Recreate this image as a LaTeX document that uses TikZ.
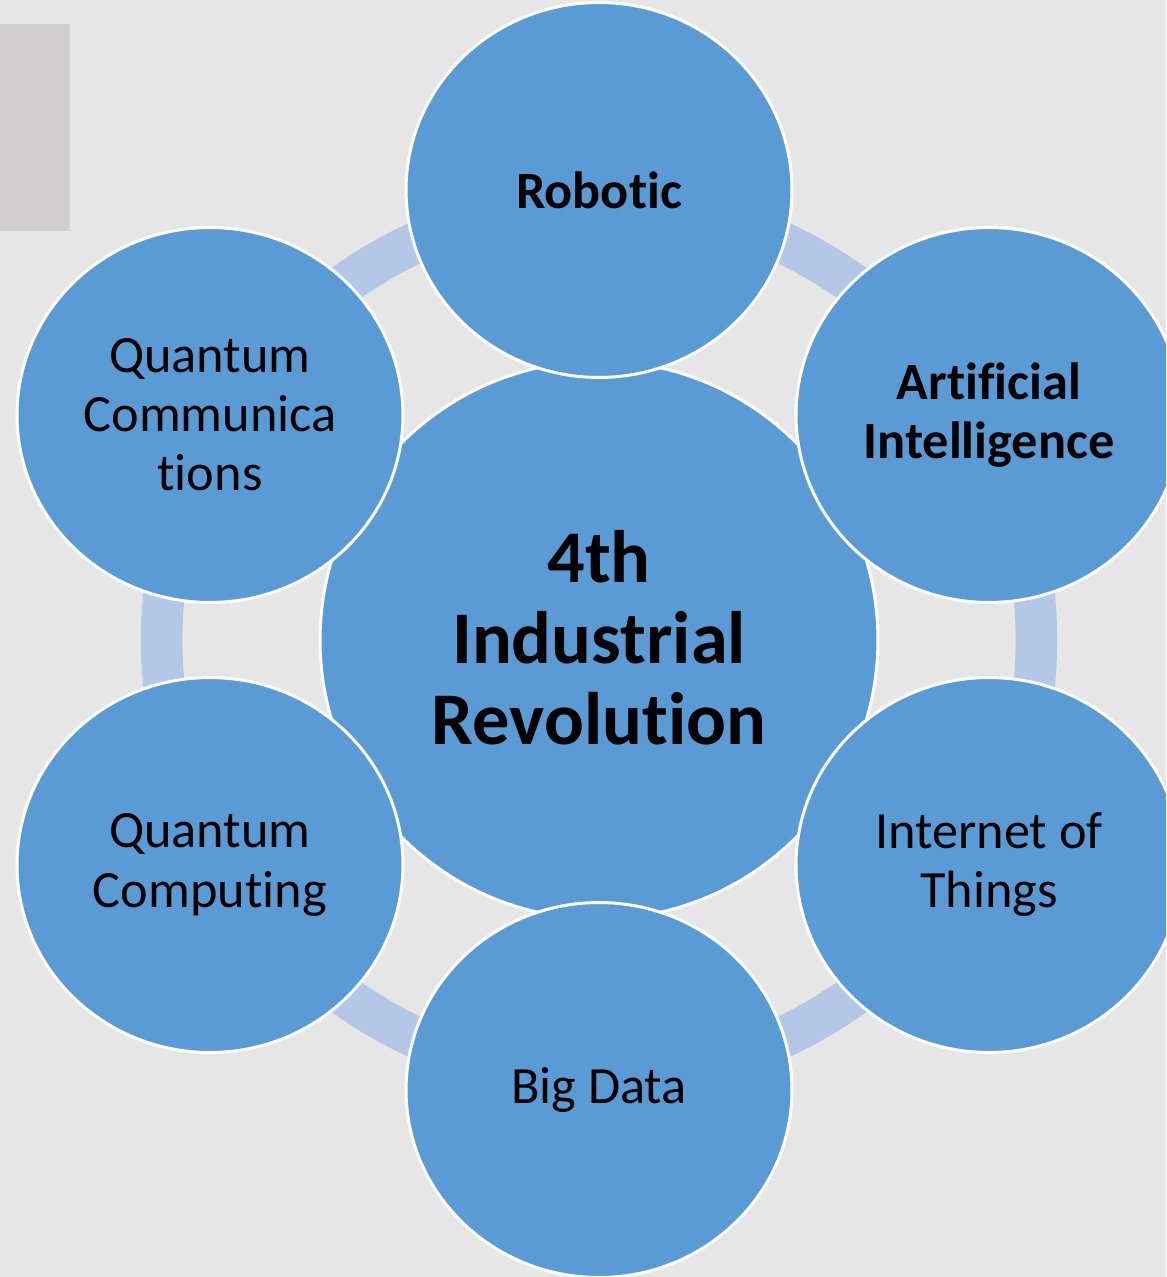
\documentclass[tikz,border=0pt]{standalone}
\usepackage{fontspec}
\setmainfont{Carlito}[RawFeature=-liga]
\usepackage{tikz}
\usetikzlibrary{shapes.geometric}
\definecolor{pagegray}{HTML}{E7E6E6}
\definecolor{tabgray}{HTML}{D0CECE}
\definecolor{discblue}{HTML}{5B9BD5}
\definecolor{ringblue}{HTML}{B4C7E7}

\begin{document}
\begin{tikzpicture}[
    x=0.02cm, y=-0.02cm,
    hub/.style={circle, draw=white, line width=1.7pt, fill=discblue,
                minimum size=11.16cm, inner sep=0pt, align=center,
                font=\fontsize{42.3}{46}\selectfont\bfseries},
    spoke/.style={ellipse, draw=white, line width=1.7pt, fill=discblue,
                  minimum width=7.72cm, minimum height=7.5cm, inner sep=0pt,
                  align=center, font=\fontsize{29.8}{33.6}\selectfont},
    ring/.style={ringblue, line width=0.83cm}
]
    \clip (0,0) rectangle (1166,1277);
    \fill[pagegray] (0,0) rectangle (1166,1277);
    \fill[tabgray] (0,24) rectangle (70,231);

    \node[hub, text depth=0.1cm] (hub) at (599,640) {4th\\Industrial\\Revolution};
    \draw[ring] (hub.center) circle (8.75cm);

    \node[spoke] (robotic) at (599,190) {\bfseries Robotic};
    \node[spoke] (ai) at (989,415) {\bfseries Artificial\\\bfseries Intelligence};
    \node[spoke] (iot) at (989,865) {Internet of\\Things};
    \node[spoke] (bigdata) at (599,1090) {Big Data};
    \node[spoke] (qcomp) at (210,865) {Quantum\\Computing};
    \node[spoke] (qcomm) at (210,415) {Quantum\\Communica\\tions};
\end{tikzpicture}
\end{document}
